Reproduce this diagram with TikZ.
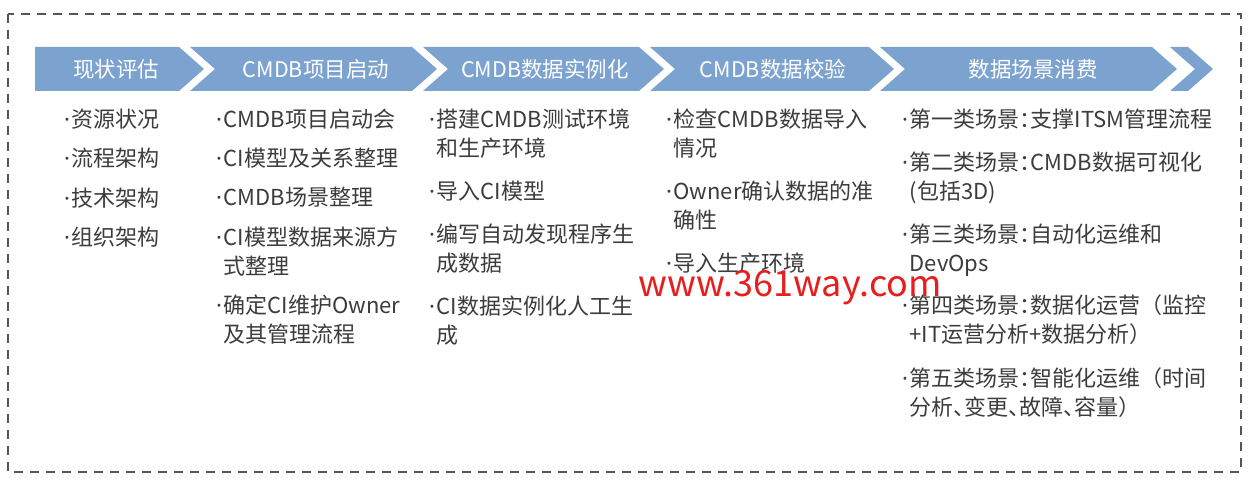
\documentclass[tikz,border=0pt]{standalone}
\usepackage{fontspec}
\setmainfont{Noto Sans CJK SC}
\newfontfamily\latinf{Noto Sans}
\definecolor{band}{RGB}{124,163,207}
\definecolor{bodytxt}{RGB}{60,60,60}
\definecolor{wmark}{RGB}{232,30,30}
\definecolor{framec}{RGB}{85,85,85}
\newcommand\bul{{\latinf ·}\kern1.5pt}
\newcommand\hw[1]{{\addfontfeature{RawFeature=+halt}#1}}
\newcommand\one[1]{\bul#1}
\newcommand\two[2]{\vtop{\hbox{\bul#1}\hbox{\hphantom{\bul}#2}}}
\begin{document}
\begin{tikzpicture}[x=1pt,y=-1pt,
  chev/.style={fill=band,draw=none},
  head/.style={text=white,font=\fontsize{21.5}{24}\selectfont,inner sep=0pt},
  item/.style={text=bodytxt,font=\fontsize{22}{29}\selectfont,inner sep=0pt,anchor=base west},
  frame/.style={draw=framec,line width=1.5pt,dash pattern=on 9pt off 7pt}]
\useasboundingbox (0,0) rectangle (1258,484);
\fill[white] (0,0) rectangle (1258,484);
\draw[frame] (8,14) rectangle (1241,472);
% chevrons
\fill[chev] (35,47) -- (179,47) -- (204,69) -- (179,91) -- (35,91) -- cycle;
\fill[chev] (190,47) -- (412,47) -- (437,69) -- (412,91) -- (190,91) -- (215,69) -- cycle;
\fill[chev] (423,47) -- (639,47) -- (664,69) -- (639,91) -- (423,91) -- (448,69) -- cycle;
\fill[chev] (650,47) -- (869,47) -- (894,69) -- (869,91) -- (650,91) -- (675,69) -- cycle;
\fill[chev] (880,47) -- (1152,47) -- (1177,69) -- (1152,91) -- (880,91) -- (905,69) -- cycle;
\fill[chev] (1170,47) -- (1188,47) -- (1213,69) -- (1188,91) -- (1170,91) -- (1195,69) -- cycle;
% headers
\node[head] (h1) at (116,69) {现状评估};
\node[head] (h2) at (316,69) {CMDB项目启动};
\node[head] (h3) at (545,69) {CMDB数据实例化};
\node[head] (h4) at (773,69) {CMDB数据校验};
\node[head] (h5) at (1033,69) {数据场景消费};
% column 1
\node[item] (a1) at (64,128) {\one{资源状况}};
\node[item] (a2) at (64,167) {\one{流程架构}};
\node[item] (a3) at (64,206) {\one{技术架构}};
\node[item] (a4) at (64,245) {\one{组织架构}};
% column 2
\node[item] (b1) at (216,128) {\one{CMDB项目启动会}};
\node[item] (b2) at (216,166) {\one{CI模型及关系整理}};
\node[item] (b3) at (216,205) {\one{CMDB场景整理}};
\node[item] (b4) at (216,245) {\two{CI模型数据来源方}{式整理}};
\node[item] (b5) at (216,313) {\two{确定CI维护Owner}{及其管理流程}};
% column 3
\node[item] (c1) at (429,128) {\two{搭建CMDB测试环境}{和生产环境}};
\node[item] (c2) at (429,199) {\one{导入CI模型}};
\node[item] (c3) at (429,242) {\two{编写自动发现程序生}{成数据}};
\node[item] (c4) at (429,314) {\two{CI数据实例化人工生}{成}};
% column 4
\node[item] (d1) at (666,128) {\two{检查CMDB数据导入}{情况}};
\node[item] (d2) at (666,199) {\two{Owner确认数据的准}{确性}};
\node[item] (d3) at (666,271) {\one{导入生产环境}};
% column 5
\node[item] (e1) at (902,128) {\one{第一类场景\hw{：}支撑ITSM管理流程}};
\node[item] (e2) at (902,170) {\two{第二类场景\hw{：}CMDB数据可视化}{(包括3D)}};
\node[item] (e3) at (902,242) {\two{第三类场景\hw{：}自动化运维和}{DevOps}};
\node[item] (e4) at (902,313) {\two{第四类场景\hw{：}数据化运营（监控}{+IT运营分析+数据分析\hw{）}}};
\node[item] (e5) at (902,386) {\two{第五类场景\hw{：}智能化运维（时间}{分析\hw{、}变更\hw{、}故障\hw{、}容量\hw{）}}};
% watermark
\node[text=wmark,font=\fontsize{36}{40}\selectfont,inner sep=0pt] (wm) at (790,288) {www.361way.com};
\end{tikzpicture}
\end{document}
